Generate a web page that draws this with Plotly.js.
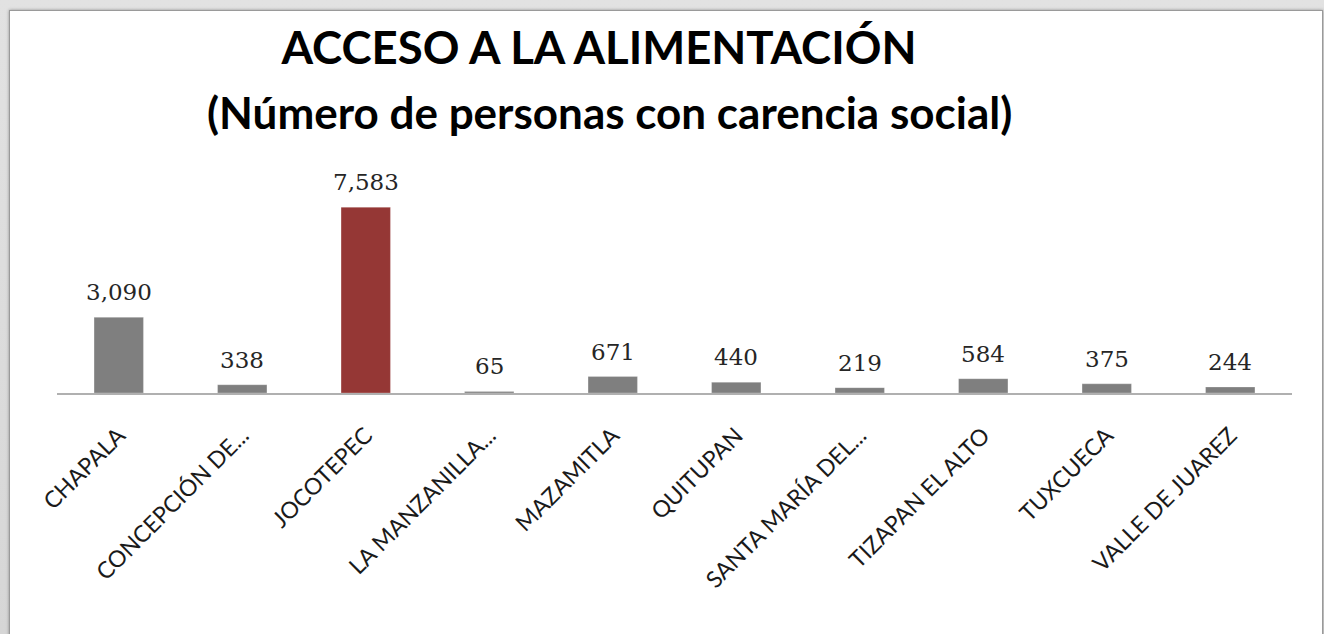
<!DOCTYPE html>
<html>
<head>
<meta charset="utf-8">
<script src="https://cdn.plot.ly/plotly-3.0.1.min.js"></script>
<style>
  html, body { margin:0; padding:0; width:1324px; height:634px; overflow:hidden;
    background: linear-gradient(#e2e2e2, #d6d6d6); }
  #frame { position:absolute; left:9px; top:10px; width:1312px; height:640px;
    background:#ffffff; border:1px solid #9a9a9a; box-shadow: 0 0 3px rgba(0,0,0,0.35); }
  #chart { position:absolute; left:0; top:0; width:1324px; height:634px; }
</style>
</head>
<body>
<div id="frame"></div>
<div id="chart"></div>
<script>
const categories = ["CHAPALA", "CONCEPCIÓN DE...", "JOCOTEPEC", "LA MANZANILLA...", "MAZAMITLA",
  "QUITUPAN", "SANTA MARÍA DEL...", "TIZAPAN EL ALTO", "TUXCUECA", "VALLE DE JUAREZ"];
const values = [3090, 338, 7583, 65, 671, 440, 219, 584, 375, 244];
const highlighted = "JOCOTEPEC";
const titleLine1 = "ACCESO A LA ALIMENTACIÓN";
const titleLine2 = "(Número de personas con carencia social)";

const grayColor = "#7f7f7f";
const redColor = "#953735";
const barColors = categories.map(c => c === highlighted ? redColor : grayColor);

const trace = {
  type: "bar",
  x: categories,
  y: values,
  marker: { color: barColors, line: { color: "rgba(255,255,255,0.25)", width: 1 } },
  hoverinfo: "x+y"
};

const valueLabels = categories.map((c, i) => ({
  x: c, y: values[i], xref: "x", yref: "y",
  text: values[i].toLocaleString("en-US"),
  showarrow: false, yanchor: "bottom", yshift: 10,
  font: { family: "DejaVu Serif, serif", size: 23, color: "#262626" }
}));

const layout = {
  width: 1324, height: 634,
  margin: { l: 57, r: 32, t: 197, b: 241, pad: 0 },
  paper_bgcolor: "rgba(0,0,0,0)",
  plot_bgcolor: "rgba(0,0,0,0)",
  bargap: 0.6,
  showlegend: false,
  title: {
    text: "<b>" + titleLine1 + "</b>",
    x: 599 / 1324, xref: "container", xanchor: "center",
    y: 1 - 48 / 634, yref: "container", yanchor: "middle",
    font: { family: "Lato, sans-serif", size: 45.5, color: "#000000" }
  },
  xaxis: {
    type: "category",
    showline: true, linecolor: "#b0b0b0", linewidth: 2,
    ticks: "", showgrid: false, zeroline: false,
    tickangle: -45,
    ticklabelstandoff: 18,
    tickfont: { family: "Lato, sans-serif", size: 23, color: "#1a1a1a" }
  },
  yaxis: {
    range: [0, 8000],
    visible: false, showgrid: false, zeroline: false
  },
  annotations: [
    {
      text: "<b>" + titleLine2 + "</b>",
      xref: "paper", yref: "paper",
      x: (609 - 57) / 1235, y: 1 + (197 - 112) / 196,
      xanchor: "center", yanchor: "middle", showarrow: false,
      font: { family: "Lato, sans-serif", size: 44, color: "#000000" }
    }
  ].concat(valueLabels)
};

Plotly.newPlot("chart", [trace], layout, { displayModeBar: false, staticPlot: true });
</script>
</body>
</html>
